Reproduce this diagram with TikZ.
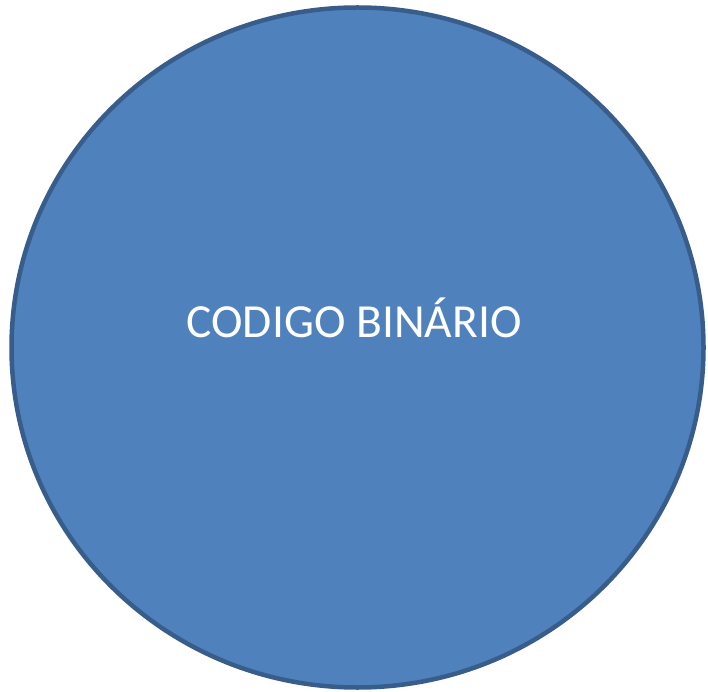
\documentclass[tikz,border=0pt]{standalone}
\usepackage{fontspec}
\setmainfont{Carlito}
\definecolor{fillblue}{HTML}{4F81BD}
\definecolor{edgeblue}{HTML}{385D8A}
\begin{document}
\begin{tikzpicture}[x=1pt,y=1pt]
\useasboundingbox (0,0) rectangle (708,691);
\tikzset{bubble/.style={fill=fillblue,draw=edgeblue,line width=4.5pt},
label/.style={text=white,font=\fontsize{47.5}{56}\selectfont,anchor=base,inner sep=0pt}}
\path[bubble] (357.5,343.5) ellipse [x radius=346, y radius=340];
\node[label] (t) at (354,353.5) {CODIGO BINÁRIO};
\end{tikzpicture}
\end{document}
